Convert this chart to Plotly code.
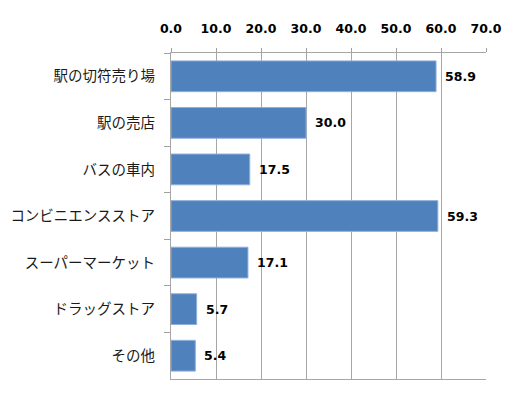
import plotly.graph_objects as go

categories = ["駅の切符売り場", "駅の売店", "バスの車内", "コンビニエンスストア",
              "スーパーマーケット", "ドラッグストア", "その他"]
values = [58.9, 30.0, 17.5, 59.3, 17.1, 5.7, 5.4]
x_ticks = [0, 10, 20, 30, 40, 50, 60, 70]

fig = go.Figure()
fig.add_trace(go.Bar(
    x=values, y=categories, orientation="h",
    marker=dict(color="#4F81BD", line=dict(color="#8EAEDC", width=1)),
    width=0.66,
))

for c, v in zip(categories, values):
    fig.add_annotation(x=v, y=c, text=f"{v:.1f}", showarrow=False,
                       xanchor="left", xshift=7,
                       font=dict(family="DejaVu Sans", size=12.5, color="#000000", weight="bold"))

fig.update_layout(
    width=520, height=398,
    margin=dict(l=171, r=34, t=53, b=19, autoexpand=False),
    paper_bgcolor="white", plot_bgcolor="white",
    showlegend=False,
    xaxis=dict(
        side="top", range=[0, 70], tickvals=x_ticks, tickformat=".1f",
        ticks="outside", ticklen=4, tickcolor="#A0A0A0",
        showgrid=True, gridcolor="#A6A6A6", gridwidth=1,
        showline=True, linecolor="#A6A6A6", mirror=True,
        zeroline=False, automargin=False, ticklabelstandoff=10,
        tickfont=dict(family="DejaVu Sans", size=12.5, color="#000000", weight="bold"),
    ),
    yaxis=dict(
        autorange="reversed", type="category",
        ticks="outside", ticklen=6, tickcolor="#A0A0A0", tickson="boundaries",
        showline=True, linecolor="#A6A6A6", showgrid=False, automargin=False,
        ticklabelstandoff=12,
        tickfont=dict(family="Noto Sans CJK JP", size=14.5, color="#1A1A1A"),
    ),
)

fig.write_html("out.html", config={"displayModeBar": False},
               post_script="document.body.style.margin='0';")
